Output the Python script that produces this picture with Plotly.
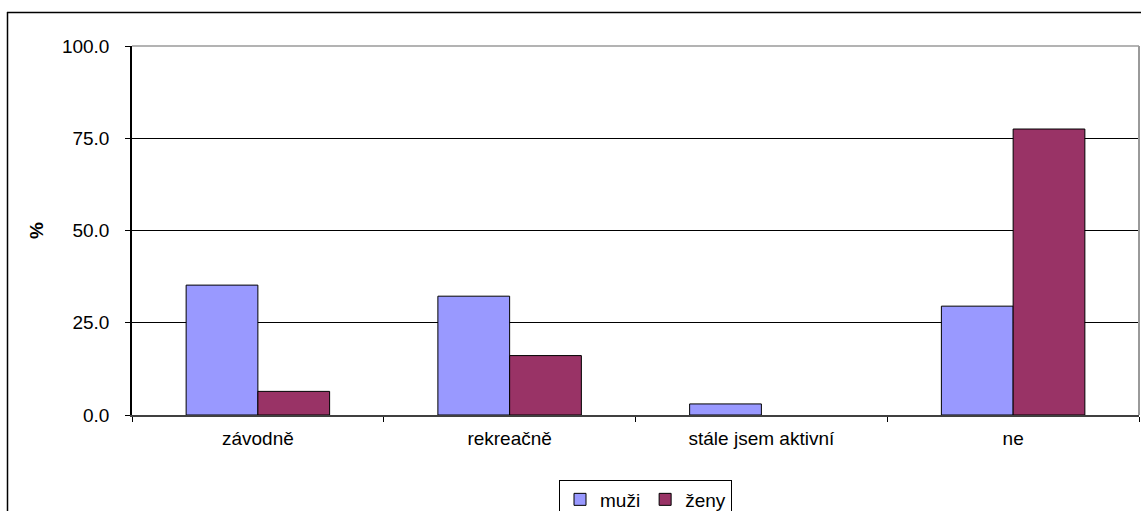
import plotly.graph_objects as go

# Survey answers and shares (%) by gender
categories = ["závodně", "rekreačně", "stále jsem aktivní", "ne"]
muzi = [35.2, 32.2, 3.0, 29.5]
zeny = [6.4, 16.1, 0.0, 77.5]
y_ticks = [0, 25, 50, 75, 100]

W, H = 1141, 511
ML, MR, MT, MB = 132, 2, 46, 96
PW = W - ML - MR
PH = H - MT - MB

FONT = "Liberation Sans, Arial, sans-serif"
FS = 19


def px_x(px):
    return (px - ML) / PW


def px_y(py):
    return (H - MB - py) / PH


def outline_widths(values):
    # empty bars get no outline
    return [1 if v > 0 else 0 for v in values]


fig = go.Figure()
fig.add_trace(go.Bar(
    name="muži", x=categories, y=muzi,
    marker=dict(color="#9999FF",
                line=dict(color="#000000", width=outline_widths(muzi))),
))
fig.add_trace(go.Bar(
    name="ženy", x=categories, y=zeny,
    marker=dict(color="#993366",
                line=dict(color="#000000", width=outline_widths(zeny))),
))

shapes = [
    # grey plot-area frame (top and right)
    dict(type="line", xref="paper", yref="paper", x0=0, x1=1, y0=1, y1=1,
         line=dict(color="#9a9a9a", width=1.5)),
    dict(type="line", xref="paper", yref="paper", x0=1, x1=1, y0=0, y1=1,
         line=dict(color="#9a9a9a", width=2)),
    # outer chart border
    dict(type="line", xref="paper", yref="paper",
         x0=px_x(7), x1=px_x(W + 10), y0=px_y(12.5), y1=px_y(12.5),
         line=dict(color="#000000", width=1.5)),
    dict(type="line", xref="paper", yref="paper",
         x0=px_x(7.5), x1=px_x(7.5), y0=px_y(12), y1=px_y(H + 10),
         line=dict(color="#000000", width=1.5)),
]

fig.update_layout(
    width=W, height=H,
    margin=dict(l=ML, r=MR, t=MT, b=MB, autoexpand=False),
    paper_bgcolor="white", plot_bgcolor="white",
    barmode="group", bargap=0.43, bargroupgap=0,
    font=dict(family=FONT, size=FS, color="#000000"),
    shapes=shapes,
    showlegend=True,
    legend=dict(
        orientation="h", x=px_x(559), y=px_y(479.5),
        xanchor="left", yanchor="top",
        bordercolor="#000000", borderwidth=1, bgcolor="white",
        font=dict(family=FONT, size=FS), itemwidth=30,
        tracegroupgap=0,
    ),
    xaxis=dict(
        type="category", showgrid=False, zeroline=False,
        showline=True, linecolor="#404040", linewidth=1.5,
        ticks="outside", tickson="boundaries", ticklen=5, tickcolor="#000000",
        tickfont=dict(family=FONT, size=FS), ticklabelstandoff=5,
        fixedrange=True,
    ),
    yaxis=dict(
        range=[0, 100], tickvals=y_ticks, tickformat=".1f",
        showgrid=True, gridcolor="#000000", gridwidth=1,
        zeroline=False, showline=True, linecolor="#000000", linewidth=1.5,
        ticks="outside", ticklen=5, tickcolor="#000000",
        tickfont=dict(family=FONT, size=FS), ticklabelstandoff=12,
        title=dict(text="<b>%</b>", font=dict(family=FONT, size=FS), standoff=13),
        automargin=False, fixedrange=True,
    ),
)

fig.write_html("out.html")
